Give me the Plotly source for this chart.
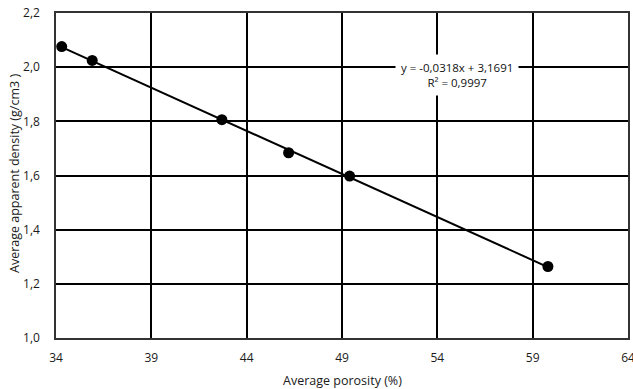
import numpy as np
import plotly.graph_objects as go

porosity = [34.3, 35.9, 42.7, 46.2, 49.4, 59.8]
density = [2.076, 2.025, 1.806, 1.684, 1.598, 1.264]
x_ticks = [34, 39, 44, 49, 54, 59, 64]
y_ticks = [1.0, 1.2, 1.4, 1.6, 1.8, 2.0, 2.2]
y_tick_labels = ["1,0", "1,2", "1,4", "1,6", "1,8", "2,0", "2,2"]
eq_text = "y = -0,0318x + 3,1691<br>R² = 0,9997"
x_title = "Average porosity (%)"
y_title = "Average apparent density (g/cm3 )"

slope, intercept = np.polyfit(porosity, density, 1)
fit_x = [min(porosity), max(porosity)]
fit_y = [slope * v + intercept for v in fit_x]

fam = "Open Sans, Noto Sans, sans-serif"
tick_font = dict(family=fam, size=12, color="#1a1a1a")
title_font = dict(family=fam, size=12.5, color="#1a1a1a")

fig = go.Figure()
fig.add_trace(go.Scatter(x=fit_x, y=fit_y, mode="lines",
                         line=dict(color="black", width=2), showlegend=False))
fig.add_trace(go.Scatter(x=porosity, y=density, mode="markers",
                         marker=dict(color="black", size=11), showlegend=False))

fig.add_annotation(x=55.05, y=1.972, xref="x", yref="y", text=eq_text, showarrow=False,
                   font=dict(family=fam, size=11.5, color="#111"),
                   bgcolor="white", align="center", borderpad=5)

# axis titles (plot area spans x 56..628, y 13..338 in a 633x389 figure)
fig.add_annotation(x=(342 - 56) / 572, y=(338 - 380) / 325, xref="paper", yref="paper",
                   text=x_title, showarrow=False, font=title_font,
                   xanchor="center", yanchor="middle")
fig.add_annotation(x=(14 - 56) / 572, y=(338 - 174) / 325, xref="paper", yref="paper",
                   text=y_title, showarrow=False, font=title_font, textangle=-90,
                   xanchor="center", yanchor="middle")

fig.update_layout(
    width=633, height=389,
    margin=dict(l=56, r=5, t=13, b=51),
    paper_bgcolor="white", plot_bgcolor="white",
    xaxis=dict(range=[34, 64], tickvals=x_ticks, ticktext=[str(v) for v in x_ticks],
               showgrid=True, gridcolor="black", gridwidth=1.5, zeroline=False,
               showline=True, mirror=True, linecolor="#333", linewidth=1.5, ticks="",
               ticklabelstandoff=8, tickfont=tick_font, automargin=False,
               ticklabeloverflow="allow"),
    yaxis=dict(range=[1.0, 2.2], tickvals=y_ticks, ticktext=y_tick_labels,
               showgrid=True, gridcolor="black", gridwidth=1.5, zeroline=False,
               showline=True, mirror=True, linecolor="#333", linewidth=1.5, ticks="",
               ticklabelstandoff=12, tickfont=tick_font, automargin=False,
               ticklabeloverflow="allow"),
)

fig.write_html("out.html", config={"displayModeBar": False},
               post_script="document.body.style.margin='0';document.body.style.overflow='hidden';")
